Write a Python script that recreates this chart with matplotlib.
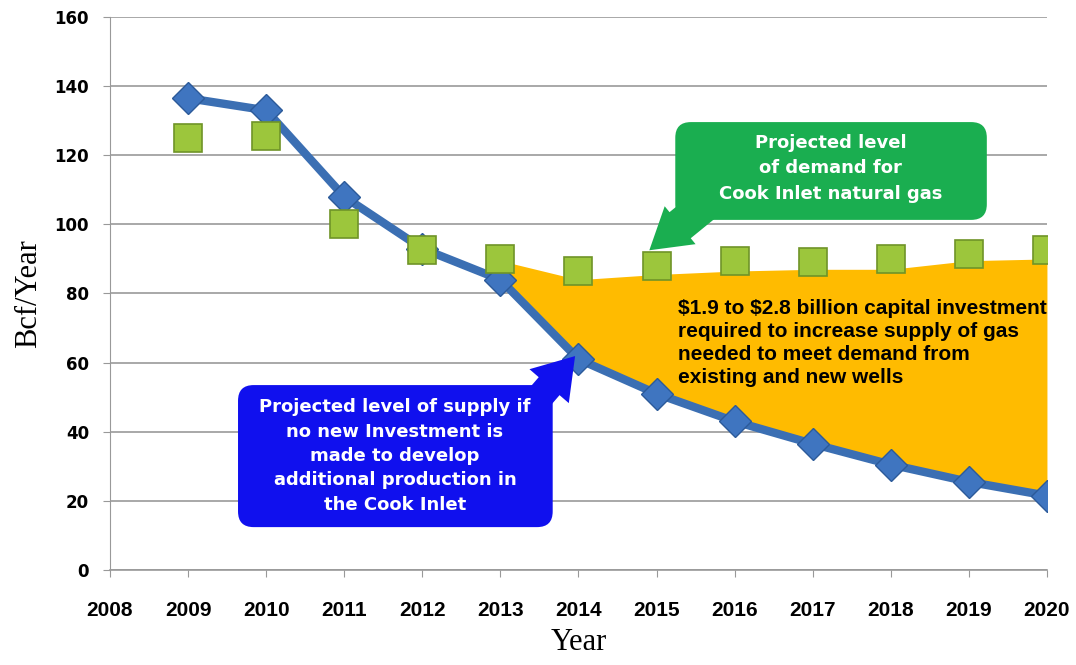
import matplotlib.pyplot as plt
from matplotlib.patches import FancyArrowPatch, FancyBboxPatch

# === Data ===
years = [2009, 2010, 2011, 2012, 2013, 2014, 2015, 2016, 2017, 2018, 2019, 2020]
supply = [136.5, 133, 108, 93, 84, 61, 51, 43, 36.5, 30.5, 25.5, 21.5]
demand = [125, 125.5, 100, 92.5, 90, 86.5, 88, 89.5, 89, 90, 91.5, 92.5]

# gap area (shaded) between projected supply and demand
gap_years = [2013, 2014, 2015, 2016, 2017, 2018, 2019, 2020]
gap_top = [89.5, 84, 85.5, 86.5, 87, 87, 89.5, 90]
gap_bottom = [84, 61, 51, 43, 36.5, 30.5, 25.5, 21.5]

x_ticks = list(range(2008, 2021))
y_ticks = list(range(0, 161, 20))

# === Plot ===
fig = plt.figure(figsize=(10.76, 6.65), dpi=100)
ax = fig.add_axes([0.1022, 0.1429, 0.8708, 0.8315])

ax.fill_between(gap_years, gap_bottom, gap_top, color="#ffbb00", lw=0, zorder=1)

ax.plot(years, supply, color="#3b6fb3", lw=6, marker="D", markersize=16,
        markerfacecolor="#3f75c0", markeredgecolor="#2c5a99", markeredgewidth=1,
        zorder=3)
ax.plot(years, demand, ls="none", marker="s", markersize=20,
        markerfacecolor="#9cc63c", markeredgecolor="#6f9428", markeredgewidth=1.2,
        zorder=4)

ax.set_xlim(2008, 2020)
ax.set_ylim(0, 160)
ax.set_xticks(x_ticks)
ax.set_yticks(y_ticks)
ax.set_xticklabels([str(v) for v in x_ticks], fontsize=15, fontweight="bold",
                   family="Liberation Sans")
ax.set_yticklabels([str(v) for v in y_ticks], fontsize=12, fontweight="bold")
ax.tick_params(axis="x", length=5, direction="out", color="#999999", pad=17)
ax.tick_params(axis="y", length=5, direction="out", color="#999999", pad=10)

ax.grid(axis="y", color="#999999", lw=1.2)
ax.set_axisbelow(True)
for s in ["top", "right"]:
    ax.spines[s].set_visible(False)
ax.spines["left"].set_color("#999999")
ax.spines["bottom"].set_color("#999999")
ax.spines["bottom"].set_linewidth(1.2)

ax.set_ylabel("Bcf/Year", fontsize=22, family="Liberation Serif", labelpad=8)
ax.set_xlabel("Year", fontsize=22, family="Liberation Serif", labelpad=6)

# === Callouts ===
blue = "#1010ee"
green = "#1aae50"
aspect = 22.6  # px per year / px per unit, keeps rounded corners circular

ax.add_patch(FancyArrowPatch((2013.35, 46), (2013.98, 62.5),
                             arrowstyle="simple,head_width=1.7,head_length=1.3,tail_width=0.9",
                             mutation_scale=22, color=blue, lw=0, zorder=5))
ax.add_patch(FancyBboxPatch((2009.64, 12.4), 4.03, 41.1,
                            boxstyle="round,pad=0,rounding_size=0.2",
                            mutation_aspect=aspect, fc=blue, ec="none", zorder=5))
ax.text(2011.65, 33.0,
        "Projected level of supply if\nno new Investment is\nmade to develop\n"
        "additional production in\nthe Cook Inlet",
        ha="center", va="center", color="white", fontsize=13, fontweight="bold",
        linespacing=1.45, zorder=6)

ax.add_patch(FancyArrowPatch((2015.75, 108), (2014.88, 92.0),
                             arrowstyle="simple,head_width=1.6,head_length=1.3,tail_width=1.1",
                             mutation_scale=22, color=green, lw=0, zorder=5))
ax.add_patch(FancyBboxPatch((2015.24, 101.3), 3.99, 28.3,
                            boxstyle="round,pad=0,rounding_size=0.2",
                            mutation_aspect=aspect, fc=green, ec="none", zorder=5))
ax.text(2017.23, 116.2,
        "Projected level\nof demand for\nCook Inlet natural gas",
        ha="center", va="center", color="white", fontsize=13, fontweight="bold",
        linespacing=1.55, zorder=6)

ax.text(2015.27, 78.3,
        "\\$1.9 to \\$2.8 billion capital investment\nrequired to increase supply of gas\n"
        "needed to meet demand from\nexisting and new wells",
        ha="left", va="top", color="black", fontsize=15, fontweight="bold",
        family="Liberation Sans", linespacing=1.25, zorder=6)

fig.savefig("out.png", dpi=100)
